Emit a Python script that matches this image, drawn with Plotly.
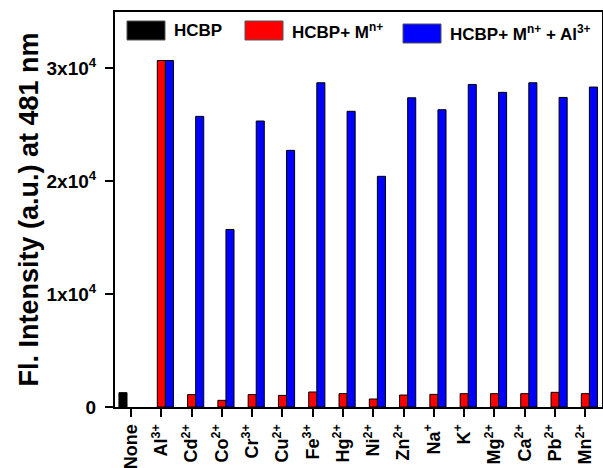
import plotly.graph_objects as go

categories = ["None", "Al<sup>3+</sup>", "Cd<sup>2+</sup>", "Co<sup>2+</sup>", "Cr<sup>3+</sup>",
              "Cu<sup>2+</sup>", "Fe<sup>3+</sup>", "Hg<sup>2+</sup>", "Ni<sup>2+</sup>",
              "Zn<sup>2+</sup>", "Na<sup>+</sup>", "K<sup>+</sup>", "Mg<sup>2+</sup>",
              "Ca<sup>2+</sup>", "Pb<sup>2+</sup>", "Mn<sup>2+</sup>"]

hcbp = [1270, None, None, None, None, None, None, None, None, None, None, None, None, None, None, None]
hcbp_m = [None, 30700, 1100, 590, 1100, 1030, 1330, 1180, 710, 1060, 1120, 1180, 1180, 1180, 1300, 1180]
hcbp_m_al = [None, 30700, 25750, 15730, 25340, 22740, 28730, 26200, 20440, 27400, 26340, 28580, 27880, 28730, 27430, 28350]

series_names = ["HCBP", "HCBP+ M<sup>n+</sup>", "HCBP+ M<sup>n+</sup> + Al<sup>3+</sup>"]
series_colors = ["black", "#ff0000", "#0000ff"]

y_tickvals = [0, 10000, 20000, 30000]
y_ticktext = ["0", "1x10<sup>4</sup>", "2x10<sup>4</sup>", "3x10<sup>4</sup>"]

FONT = "Arial, Liberation Sans, sans-serif"
line = dict(color="black", width=1)

W, H = 603, 468
fig = go.Figure()
for vals, name, col in zip([hcbp, hcbp_m, hcbp_m_al], series_names, series_colors):
    fig.add_trace(go.Bar(x=categories, y=vals, name=name, marker=dict(color=col, line=line)))

# legend drawn as swatches + labels (paper coordinates)
ml, mr, mt, mb = 115, 1, 12, 61
pw, ph = W - ml - mr, H - mt - mb
def px(x):
    return (x - ml) / pw
def py(y):
    return 1 - (y - mt) / ph

legend_items = [(127, 165, 21, 40, 172), (245, 283, 21, 40, 290), (403, 441, 24, 43, 448)]
shapes = []
annotations = []
for (x0, x1, y0, y1, tx), name, col in zip(legend_items, series_names, series_colors):
    shapes.append(dict(type="rect", xref="paper", yref="paper", x0=px(x0), x1=px(x1),
                       y0=py(y1), y1=py(y0), fillcolor=col, line=dict(color="#555", width=1)))
    annotations.append(dict(xref="paper", yref="paper", x=px(tx), y=py((y0 + y1) / 2),
                            xanchor="left", yanchor="middle", text=name, showarrow=False,
                            font=dict(size=17, family=FONT, weight="bold", color="black")))

fig.update_layout(
    width=W, height=H,
    margin=dict(l=ml, r=mr, t=mt, b=mb, autoexpand=False),
    barmode="group", bargap=0.2, bargroupgap=0,
    plot_bgcolor="white", paper_bgcolor="white",
    font=dict(family=FONT, color="black", weight="bold"),
    showlegend=False,
    shapes=shapes, annotations=annotations,
)
fig.update_xaxes(
    range=[-0.53, 15.55], showline=True, linecolor="black", linewidth=2, mirror=True,
    ticks="outside", ticklen=8, tickwidth=2, tickcolor="black", tickangle=-90,
    tickfont=dict(size=18, family=FONT, weight="bold"), showgrid=False, automargin=False,
)
fig.update_yaxes(
    range=[0, 35000], showline=True, linecolor="black", linewidth=2, mirror=True,
    ticks="outside", ticklen=8, tickwidth=2, tickcolor="black",
    tickvals=y_tickvals, ticktext=y_ticktext, ticklabelstandoff=5,
    tickfont=dict(size=19, family=FONT, weight="bold"), showgrid=False, zeroline=False,
    automargin=False,
    title=dict(text="Fl. Intensity (a.u.) at 481 nm", font=dict(size=27, family=FONT, weight="bold"), standoff=0),
)

fig.write_html("out.html", config={"displayModeBar": False},
               post_script="document.body.style.margin='0';")
